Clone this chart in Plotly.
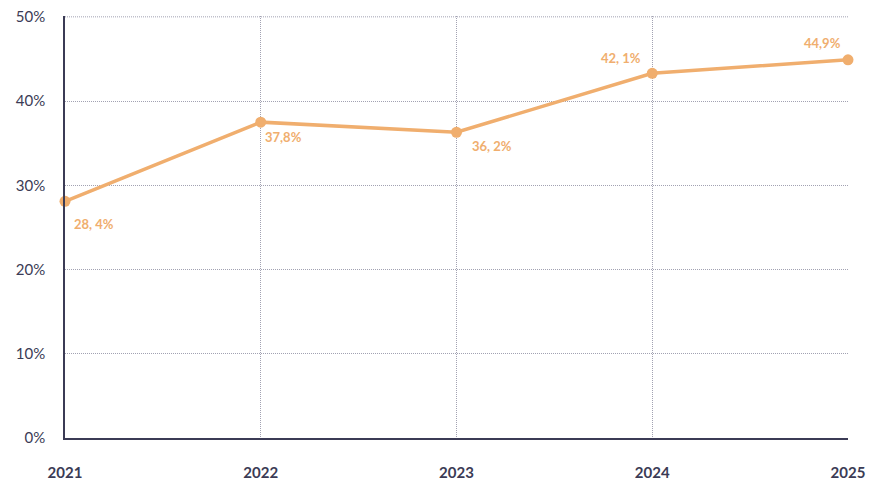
import plotly.graph_objects as go

years = [2021, 2022, 2023, 2024, 2025]
values = [28.1, 37.5, 36.3, 43.3, 44.9]
labels = ["28, 4%", "37,8%", "36, 2%", "42, 1%", "44,9%"]
y_ticks = [0, 10, 20, 30, 40, 50]
y_tick_text = ["0%", "10%", "20%", "30%", "40%", "50%"]

orange = "#F0AE6E"
navy = "#3B3B55"
grid = "#A2A2B2"

fig = go.Figure()
fig.add_trace(go.Scatter(
    x=years, y=values, mode="lines+markers",
    line=dict(color=orange, width=3.5),
    marker=dict(color=orange, size=11),
    hoverinfo="skip", showlegend=False, cliponaxis=False,
))

# label placement: below-right for first three, above-left for last two
place = [("left", "top", 7, -13), ("left", "top", 2, -5), ("left", "top", 13, -4),
         ("right", "bottom", -9, 5), ("right", "bottom", -5, 7)]
for x, y, t, (xa, ya, xs, ys) in zip(years, values, labels, place):
    fig.add_annotation(x=x, y=y, text="<b>" + t + "</b>", showarrow=False,
                       xanchor=xa, yanchor=ya, xshift=xs, yshift=ys,
                       font=dict(family="Lato", size=13, color=orange))

# top gridline (at the edge of the plot area)
fig.add_shape(type="line", xref="x", yref="y", x0=years[0], x1=years[-1],
              y0=y_ticks[-1], y1=y_ticks[-1], layer="below",
              line=dict(color=grid, width=1, dash="1px,1px"))

fig.update_layout(
    width=880, height=480,
    margin=dict(l=57, r=40, t=8, b=50),
    paper_bgcolor="white", plot_bgcolor="white",
    font=dict(family="Lato", color=navy),
)
fig.update_xaxes(
    range=[2021, 2025], tickvals=years,
    ticktext=["<b>%d</b>" % y for y in years],
    tickfont=dict(size=15, color=navy, family="Lato"),
    showgrid=True, gridcolor=grid, griddash="1px,1px", gridwidth=1,
    showline=True, linecolor=navy, linewidth=1.5,
    ticks="", ticklabelstandoff=20, zeroline=False, automargin=False,
    ticklabeloverflow="allow",
)
fig.update_yaxes(
    range=[0, 50.1], tickvals=y_ticks, ticktext=y_tick_text,
    tickfont=dict(size=15, color=navy, family="Lato"),
    showgrid=True, gridcolor=grid, griddash="1px,1px", gridwidth=1,
    showline=True, linecolor=navy, linewidth=1.5,
    ticks="", ticklabelstandoff=15, zeroline=False, automargin=False,
    ticklabeloverflow="allow",
)
fig.write_html("out.html")
